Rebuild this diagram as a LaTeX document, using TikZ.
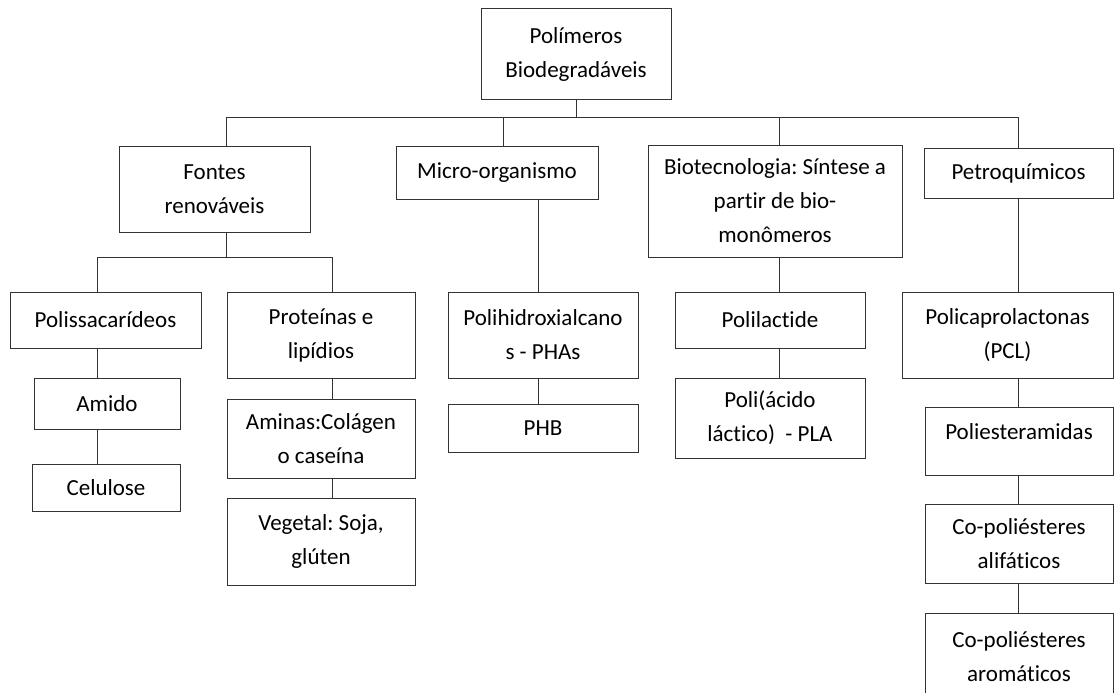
\documentclass[tikz,border=0pt]{standalone}
\usepackage{fontspec}
\setmainfont{Carlito}[Ligatures={NoCommon}]
\frenchspacing
\definecolor{lineclr}{HTML}{333333}
\tikzset{
  box/.style={draw=lineclr, line width=1pt, align=center, inner sep=0pt,
    font=\fontsize{23pt}{34pt}\selectfont, text=black},
  link/.style={draw=lineclr, line width=1pt}
}
\begin{document}
\begin{tikzpicture}[x=1pt,y=-1pt]
\useasboundingbox (0,0) rectangle (1114,693);
% level 0
\node[box, minimum width=190pt, minimum height=90pt] (root) at (576,54) {Polímeros\\Biodegradáveis};
% level 1
\node[box, minimum width=191pt, minimum height=86pt] (fontes) at (214.5,189) {Fontes\\renováveis};
\node[box, minimum width=202pt, minimum height=53pt] (micro) at (497,172.5) {Micro-organismo};
\node[box, minimum width=254pt, minimum height=112pt] (biotec) at (775,201) {Biotecnologia: Síntese a\\partir de bio-\\monômeros};
\node[box, minimum width=189pt, minimum height=50pt] (petro) at (1018.5,173) {Petroquímicos};
% level 2
\node[box, minimum width=191pt, minimum height=56pt] (polis) at (105.5,320) {Polissacarídeos};
\node[box, minimum width=188pt, minimum height=86pt] (prot) at (321,335) {Proteínas e\\lipídios};
\node[box, minimum width=190pt, minimum height=86pt] (phas) at (543,335) {Polihidroxialcano\\s - PHAs};
\node[box, minimum width=190pt, minimum height=56pt] (pla1) at (770,320) {Polilactide};
\node[box, minimum width=211pt, minimum height=86pt] (pcl) at (1007.5,335) {Policaprolactonas\\(PCL)};
% level 3+
\node[box, minimum width=146pt, minimum height=51pt] (amido) at (107,403.5) {Amido};
\node[box, minimum width=148pt, minimum height=47pt] (celulose) at (106,487.5) {Celulose};
\node[box, minimum width=188pt, minimum height=79pt] (aminas) at (321,438.5) {Aminas:Colágen\\o caseína};
\node[box, minimum width=188pt, minimum height=87pt] (vegetal) at (321,541.5) {Vegetal: Soja,\\glúten};
\node[box, minimum width=190pt, minimum height=48pt] (phb) at (543,428) {PHB};
\node[box, minimum width=190pt, minimum height=80pt] (pla2) at (770,418) {Poli(ácido\\láctico)\ \ - PLA};
\node[box, minimum width=188pt, minimum height=68pt] (poliest) at (1019,441) {Poliesteramidas\\[-16pt]\mbox{}};
\node[box, minimum width=188pt, minimum height=79pt] (alif) at (1019,543.5) {Co-poliésteres\\alifáticos};
\node[box, minimum width=188pt, minimum height=87pt] (arom) at (1019,656.5) {Co-poliésteres\\aromáticos};
% junction coordinates
\coordinate (hub) at (576,117);
\coordinate (kF) at (226,117);
\coordinate (kM) at (503,117);
\coordinate (kB) at (779,117);
\coordinate (kP) at (1018,117);
\coordinate (hubF) at (226,257);
\coordinate (kL) at (97,257);
\coordinate (kPr) at (332,257);
\coordinate (cMi) at (538,0);
% connectors
\draw[link] (root.south -| hub) -- (hub);
\draw[link] (kF) -- (kP);
\draw[link] (kF) -- (fontes.north -| kF);
\draw[link] (kM) -- (micro.north -| kM);
\draw[link] (kB) -- (biotec.north -| kB);
\draw[link] (kP) -- (petro.north -| kP);
\draw[link] (fontes.south -| hubF) -- (hubF);
\draw[link] (kL) -- (kPr);
\draw[link] (kL) -- (polis.north -| kL);
\draw[link] (kPr) -- (prot.north -| kPr);
\draw[link] (polis.south -| kL) -- (amido.north -| kL);
\draw[link] (amido.south -| kL) -- (celulose.north -| kL);
\draw[link] (prot.south -| kPr) -- (aminas.north -| kPr);
\draw[link] (aminas.south -| kPr) -- (vegetal.north -| kPr);
\draw[link] (micro.south -| cMi) -- (phas.north -| cMi);
\draw[link] (phas.south -| cMi) -- (phb.north -| cMi);
\draw[link] (biotec.south -| kB) -- (pla1.north -| kB);
\draw[link] (pla1.south -| kB) -- (pla2.north -| kB);
\draw[link] (petro.south -| kP) -- (pcl.north -| kP);
\draw[link] (pcl.south -| kP) -- (poliest.north -| kP);
\draw[link] (poliest.south -| kP) -- (alif.north -| kP);
\draw[link] (alif.south -| kP) -- (arom.north -| kP);
\end{tikzpicture}
\end{document}
